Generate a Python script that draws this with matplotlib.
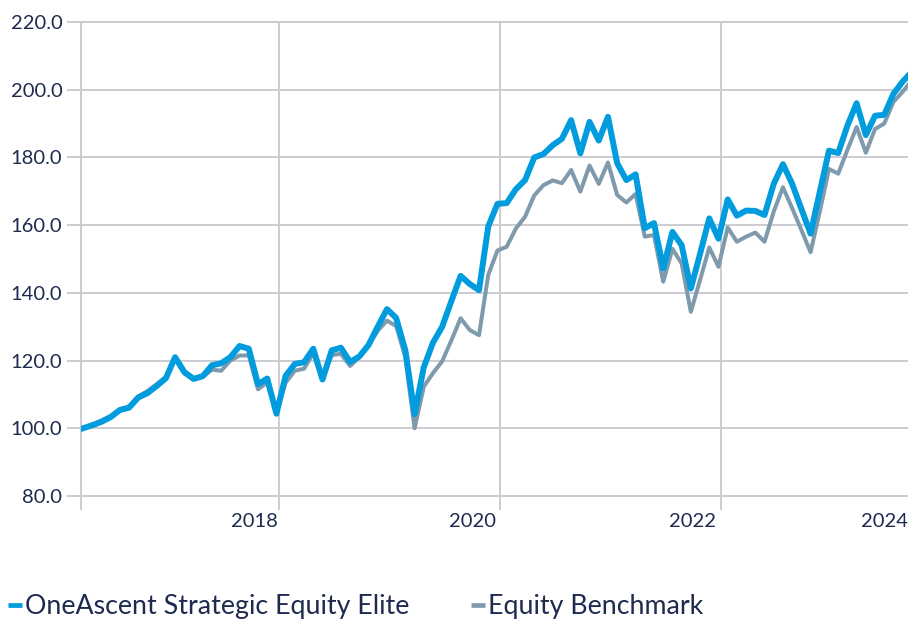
import numpy as np
import matplotlib
matplotlib.use("Agg")
import matplotlib.pyplot as plt
from matplotlib.lines import Line2D

# monthly index values
fund = [100.0, 100.9, 101.9, 103.3, 105.4, 106.1, 109.1, 110.4, 112.5, 114.8,
        121.0, 116.6, 114.6, 115.4, 118.6, 119.2, 121.0, 124.3, 123.5, 113.0,
        114.7, 104.3, 115.5, 119.0, 119.5, 123.5, 114.4, 123.0, 123.8, 119.6,
        121.2, 124.6, 130.0, 135.2, 132.6, 123.0, 104.2, 118.0, 125.3, 130.0,
        137.6, 145.0, 142.6, 140.8, 159.6, 166.3, 166.5, 170.6, 173.3, 180.0,
        181.0, 183.6, 185.5, 191.0, 181.2, 190.5, 185.0, 192.0, 178.3, 173.3,
        175.0, 159.1, 160.6, 147.2, 158.0, 154.1, 141.3, 151.5, 162.0, 156.0,
        167.6, 162.8, 164.3, 164.2, 163.0, 172.2, 178.0, 172.2, 164.8, 157.5,
        169.8, 182.0, 181.3, 189.4, 196.0, 186.6, 192.3, 192.6, 198.8, 202.4,
        205.3]
bench = [100.0, 101.0, 102.3, 103.6, 105.6, 106.4, 109.4, 111.0, 113.0, 115.2,
         120.6, 116.2, 114.4, 115.2, 117.3, 117.0, 120.0, 121.5, 121.5, 111.5,
         113.6, 104.6, 113.5, 117.0, 117.6, 122.2, 114.5, 121.6, 122.0, 118.4,
         121.0, 124.4, 128.8, 131.8, 130.2, 121.0, 100.0, 112.3, 116.3, 119.8,
         126.0, 132.5, 129.0, 127.5, 145.3, 152.5, 153.6, 159.0, 162.5, 168.8,
         171.8, 173.2, 172.4, 176.3, 169.9, 177.6, 172.2, 178.5, 168.9, 166.7,
         169.2, 156.6, 157.1, 143.3, 153.0, 148.7, 134.4, 143.8, 153.4, 147.7,
         159.3, 155.1, 156.6, 157.8, 155.1, 164.0, 171.2, 165.0, 158.6, 152.0,
         164.0, 176.6, 175.2, 182.2, 189.0, 181.4, 188.4, 190.0, 196.4, 199.4,
         202.8]
year_labels = ["2018", "2020", "2022", "2024"]
label_pos = [18.57, 42.24, 66.2, 87.0]     # where the year labels sit (months)
grid_pos = [-0.22, 21.28, 45.28, 69.27]    # vertical gridlines (months)

months = np.arange(len(fund))

blue = "#009cdd"
grey = "#7f9aad"
gridc = "#cbccd2"
textc = "#1e2b4f"

plt.rcParams["font.family"] = ["Lato", "DejaVu Sans"]

fig = plt.figure(figsize=(9.08, 6.2), dpi=100)
ax = fig.add_axes([81 / 908, 124 / 620, 827 / 908, 474 / 620])

ax.plot(months, bench, color=grey, lw=2.9, solid_joinstyle="round", zorder=3)
ax.plot(months, fund, color=blue, lw=4.3, solid_joinstyle="round", zorder=4)

ax.set_xlim(-0.22, 89.58)
ax.set_ylim(80, 220)
ax.set_yticks(np.arange(80, 221, 20))
ax.set_yticklabels(["%.1f" % v for v in np.arange(80, 221, 20)])

ax.set_xticks(grid_pos)
ax.set_xticklabels([])
ax.set_xticks(label_pos, minor=True)
ax.set_xticklabels(year_labels, minor=True)

ax.grid(True, which="major", color=gridc, lw=1.4)
ax.set_axisbelow(True)
for s in ["top", "bottom", "left"]:
    ax.spines[s].set_color(gridc)
    ax.spines[s].set_linewidth(1.4)
ax.spines["right"].set_visible(False)

ax.tick_params(axis="y", length=10, width=1.4, color=gridc, labelsize=14.5,
               labelcolor=textc, pad=3.5)
ax.tick_params(axis="x", which="major", length=10, width=1.4, color=gridc)
ax.tick_params(axis="x", which="minor", length=0, labelsize=14.5,
               labelcolor=textc, pad=12)

handles = [Line2D([], [], color=blue, lw=3.4, solid_capstyle="butt"),
           Line2D([], [], color=grey, lw=3.4, solid_capstyle="butt")]
fig.legend(handles, ["OneAscent Strategic Equity Elite", "Equity Benchmark"],
           loc="center left", bbox_to_anchor=(8 / 908, 0.021), ncol=2,
           frameon=False, fontsize=19.3, labelcolor=textc, handlelength=0.52,
           handletextpad=0.12, columnspacing=2.3, borderpad=0, borderaxespad=0)

fig.savefig("out.png", dpi=100)
